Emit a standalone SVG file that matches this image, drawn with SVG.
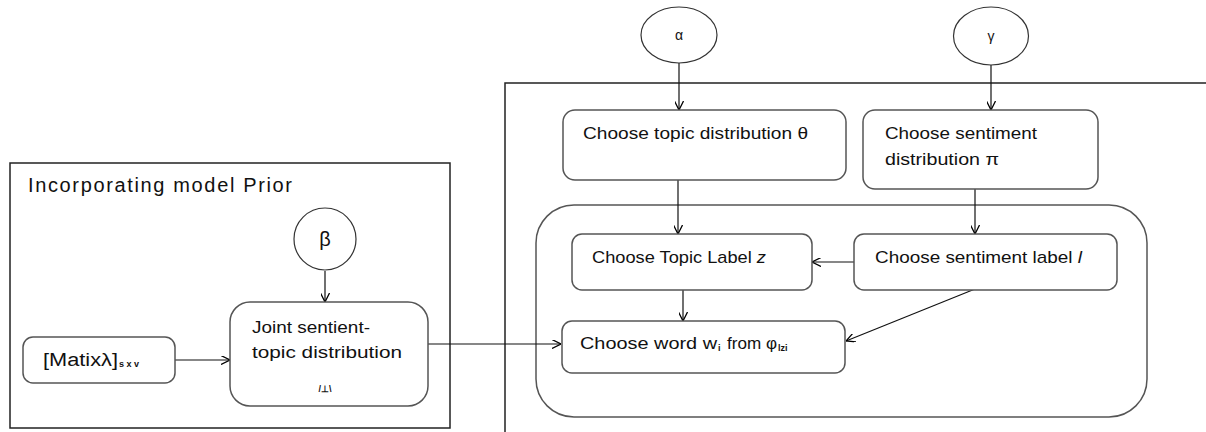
<svg xmlns="http://www.w3.org/2000/svg" width="1206" height="432" viewBox="0 0 1206 432">
<defs>
<marker id="ah" viewBox="0 0 10 10" refX="10" refY="5" markerWidth="9" markerHeight="9" markerUnits="userSpaceOnUse" orient="auto">
<path d="M0,0 L10,5 L0,10" fill="none" stroke="#000" stroke-width="1.4"/>
</marker>
<style>
.frame{fill:none;stroke:#222;stroke-width:1.5}
.box{fill:#fff;stroke:#555;stroke-width:1.5}
.t{font-family:"Liberation Sans",Arial,sans-serif;fill:#111}
.f17{font-size:17px}
.f18{font-size:18px}
.f20{font-size:20px}
.f14{font-size:14px}
.sub{font-size:9px;font-weight:bold}
.c{fill:#fff;stroke:#333;stroke-width:1.2}
.arr{fill:none;stroke:#111;stroke-width:1.2;marker-end:url(#ah)}
</style>
</defs>
<rect width="1206" height="432" fill="#fff"/>
<g id="prior-frame">
<rect class="frame" x="10" y="163" width="440" height="265"/>
<text class="t f20" x="28" y="192" textLength="264" lengthAdjust="spacing">Incorporating model Prior</text>
</g>
<g id="plate-frame">
<path class="frame" d="M505,432 V83 H1206"/>
</g>
<g id="inner-plate">
<rect class="box" x="536" y="205" width="611" height="212" rx="38"/>
</g>
<g id="connectors">
<line class="arr" x1="325" y1="271" x2="325" y2="302"/>
<line class="arr" x1="175" y1="360" x2="230" y2="360"/>
<line class="arr" x1="428" y1="344" x2="561" y2="344"/>
<line class="arr" x1="679" y1="63" x2="679" y2="110"/>
<line class="arr" x1="991" y1="65" x2="991" y2="110"/>
<line class="arr" x1="678" y1="180" x2="678" y2="234"/>
<line class="arr" x1="975" y1="189" x2="975" y2="234"/>
<line class="arr" x1="855" y1="262" x2="812" y2="262"/>
<line class="arr" x1="683" y1="290" x2="683" y2="321"/>
<line class="arr" x1="975" y1="289" x2="846" y2="341"/>
</g>
<g id="beta">
<circle class="c" cx="325" cy="239" r="31"/>
<text class="t f20" x="325" y="246" text-anchor="middle">β</text>
</g>
<g id="alpha">
<ellipse class="c" cx="679" cy="35" rx="38" ry="28"/>
<text class="t f14" x="679" y="40" text-anchor="middle">α</text>
</g>
<g id="gamma">
<ellipse class="c" cx="991" cy="36" rx="37.5" ry="29"/>
<text class="t f14" x="991" y="41" text-anchor="middle">γ</text>
</g>
<g id="matrix">
<rect class="box" x="23" y="337" width="152" height="46" rx="10"/>
<text class="t f18" x="43" y="366" textLength="75" lengthAdjust="spacingAndGlyphs">[Matixλ]</text>
<text class="t sub" x="119" y="367">s x v</text>
</g>
<g id="joint">
<rect class="box" x="230" y="302" width="198" height="104" rx="20"/>
<text class="t f17" x="252" y="333" textLength="118" lengthAdjust="spacingAndGlyphs">Joint sentient-</text>
<text class="t f17" x="252" y="358" textLength="150" lengthAdjust="spacingAndGlyphs">topic distribution</text>
<text class="t sub" x="325" y="392" text-anchor="middle">/⊥\</text>
</g>
<g id="topic-dist">
<rect class="box" x="563" y="110" width="283" height="70" rx="12"/>
<text class="t f17" x="583" y="139" textLength="225" lengthAdjust="spacingAndGlyphs">Choose topic distribution θ</text>
</g>
<g id="sent-dist">
<rect class="box" x="863" y="110" width="235" height="79" rx="12"/>
<text class="t f17" x="885" y="139" textLength="152" lengthAdjust="spacingAndGlyphs">Choose sentiment</text>
<text class="t f17" x="885" y="165" textLength="114" lengthAdjust="spacingAndGlyphs">distribution π</text>
</g>
<g id="topic-label">
<rect class="box" x="572" y="234" width="240" height="56" rx="10"/>
<text class="t f17" x="592" y="263" textLength="174" lengthAdjust="spacingAndGlyphs">Choose Topic Label <tspan font-style="italic">z</tspan></text>
</g>
<g id="sent-label">
<rect class="box" x="854" y="234" width="263" height="56" rx="10"/>
<text class="t f17" x="875" y="263" textLength="207" lengthAdjust="spacingAndGlyphs">Choose sentiment label <tspan font-style="italic">l</tspan></text>
</g>
<g id="word">
<rect class="box" x="562" y="321" width="283" height="52" rx="10"/>
<text class="t f17" x="580" y="349" textLength="137" lengthAdjust="spacingAndGlyphs">Choose word w</text>
<text class="t sub" x="718" y="351">i</text>
<text class="t f17" x="727" y="349" textLength="50" lengthAdjust="spacingAndGlyphs">from φ</text>
<text class="t sub" x="778" y="351">lzi</text>
</g>
</svg>
